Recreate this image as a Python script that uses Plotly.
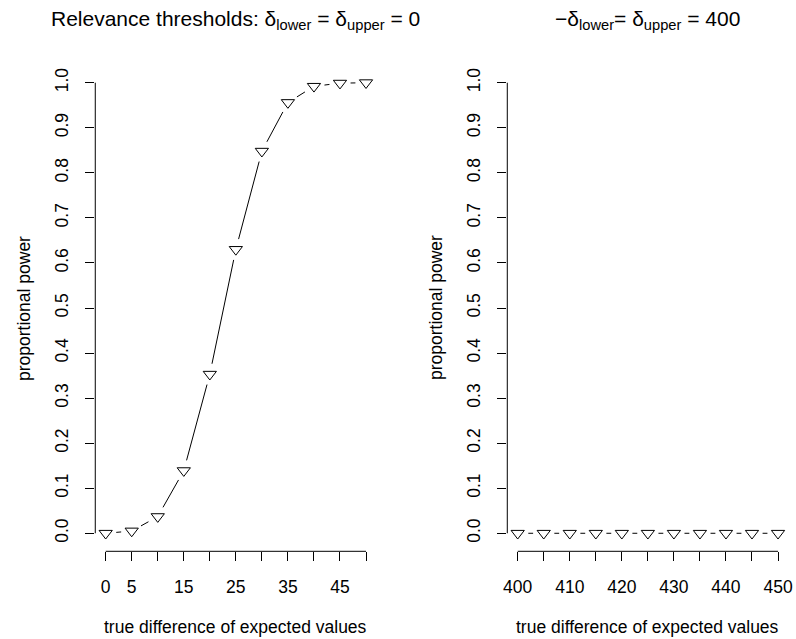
import plotly.graph_objects as go

# ---- data -------------------------------------------------------------
diff_left = [0, 5, 10, 15, 20, 25, 30, 35, 40, 45, 50]
power_left = [0.0, 0.005, 0.037, 0.139, 0.353, 0.630, 0.848, 0.956, 0.992, 0.999, 1.0]

diff_right = [400, 405, 410, 415, 420, 425, 430, 435, 440, 445, 450]
power_right = [0.0, 0.0, 0.0, 0.0, 0.0, 0.0, 0.0, 0.0, 0.0, 0.0, 0.0]

xticks_left = [0, 5, 10, 15, 20, 25, 30, 35, 40, 45, 50]
xlabels_left = ["0", "5", "", "15", "", "25", "", "35", "", "45", ""]
xticks_right = [400, 405, 410, 415, 420, 425, 430, 435, 440, 445, 450]
xlabels_right = ["400", "", "410", "", "420", "", "430", "", "440", "", "450"]
yticks = [0.0, 0.1, 0.2, 0.3, 0.4, 0.5, 0.6, 0.7, 0.8, 0.9, 1.0]
ylabels = ["0.0", "0.1", "0.2", "0.3", "0.4", "0.5", "0.6", "0.7", "0.8", "0.9", "1.0"]

title_left = "Relevance thresholds: δ<sub>lower</sub> = δ<sub>upper</sub> = 0"
title_right = "\u2212δ<sub>lower</sub>= δ<sub>upper</sub> = 400"
xlab = "true difference of expected values"
ylab = "proportional power"

# ---- geometry ---------------------------------------------------------
W, H = 796, 639
FONT = "Liberation Sans, Arial, Helvetica, sans-serif"
FS = 17.5
panel_px = [(92.2, 376.2), (508.4, 792.4)]
top_px, bot_px = 64.7, 551.3
ydom = [1 - bot_px / H, 1 - top_px / H]
GAP = 10.7  # px left open around each point (type "b" style)


def pad_range(vals, frac=0.04):
    lo, hi = min(vals), max(vals)
    d = (hi - lo) * frac
    return [lo - d, hi + d]


def gapped_segments(xs, ys, xr, yr, px_range):
    """Line pieces between consecutive points, with a pixel gap at each point."""
    sx = (px_range[1] - px_range[0]) / (xr[1] - xr[0])
    sy = (bot_px - top_px) / (yr[1] - yr[0])
    gx, gy = [], []
    for i in range(len(xs) - 1):
        dx = (xs[i + 1] - xs[i]) * sx
        dy = (ys[i + 1] - ys[i]) * sy
        length = (dx * dx + dy * dy) ** 0.5
        if length <= 2 * GAP:
            continue
        t = GAP / length
        gx += [xs[i] + t * (xs[i + 1] - xs[i]), xs[i + 1] - t * (xs[i + 1] - xs[i]), None]
        gy += [ys[i] + t * (ys[i + 1] - ys[i]), ys[i + 1] - t * (ys[i + 1] - ys[i]), None]
    return gx, gy


fig = go.Figure()
yr = pad_range([0, 1])

panels = [
    (diff_left, power_left, xticks_left, xlabels_left, title_left, "x", "y"),
    (diff_right, power_right, xticks_right, xlabels_right, title_right, "x2", "y2"),
]

annotations = []
shapes = []
for k, (xs, ys, xt, xl, ttl, xa, ya) in enumerate(panels):
    xr = pad_range(xs)
    px = panel_px[k]
    sx, sy = gapped_segments(xs, ys, xr, yr, px)
    fig.add_trace(go.Scatter(x=sx, y=sy, mode="lines", xaxis=xa, yaxis=ya,
                             line=dict(color="black", width=1), hoverinfo="skip",
                             showlegend=False))
    fig.add_trace(go.Scatter(x=xs, y=ys, mode="markers", xaxis=xa, yaxis=ya,
                             marker=dict(symbol="triangle-down", size=11.5, color="white",
                                         line=dict(color="black", width=1)),
                             showlegend=False))
    suffix = "" if k == 0 else str(k + 1)
    axis_common = dict(showgrid=False, zeroline=False, showline=False, ticks="outside",
                       ticklen=9, tickwidth=1, tickcolor="black",
                       ticklabeloverflow="allow",
                       tickfont=dict(family=FONT, size=FS, color="black"))
    fig.update_layout(**{
        "xaxis" + suffix: dict(domain=[px[0] / W, px[1] / W], range=xr, tickmode="array",
                               tickvals=xt, ticktext=xl, anchor=ya, ticklabelstandoff=11,
                               **axis_common),
        "yaxis" + suffix: dict(domain=ydom, range=yr, tickmode="array", tickvals=yticks,
                               ticktext=ylabels, tickangle=-90, anchor=xa,
                               ticklabelstandoff=10, **axis_common),
    })
    # axis lines spanning first to last tick only
    shapes.append(dict(type="line", xref=xa, yref=ya + " domain", x0=xt[0], x1=xt[-1],
                       y0=0, y1=0, line=dict(color="black", width=1)))
    shapes.append(dict(type="line", xref=xa + " domain", yref=ya, x0=0, x1=0,
                       y0=yticks[0], y1=yticks[-1], line=dict(color="black", width=1)))
    cx = (px[0] + px[1]) / 2 / W
    annotations.append(dict(text=ttl, x=cx, y=1 - 20 / H, xref="paper", yref="paper",
                            xanchor="center", yanchor="middle", showarrow=False,
                            font=dict(family=FONT, size=21, color="black")))
    annotations.append(dict(text=xlab, x=cx, y=1 - 627 / H, xref="paper", yref="paper",
                            xanchor="center", yanchor="middle", showarrow=False,
                            font=dict(family=FONT, size=FS, color="black")))
    annotations.append(dict(text=ylab, x=(px[0] - 72) / W, y=(ydom[0] + ydom[1]) / 2,
                            xref="paper", yref="paper", xanchor="center", yanchor="middle",
                            textangle=-90, showarrow=False,
                            font=dict(family=FONT, size=FS, color="black")))

fig.update_layout(width=W, height=H, margin=dict(l=0, r=0, t=0, b=0),
                  plot_bgcolor="white", paper_bgcolor="white",
                  annotations=annotations, shapes=shapes)

fig.write_html("out.html")
